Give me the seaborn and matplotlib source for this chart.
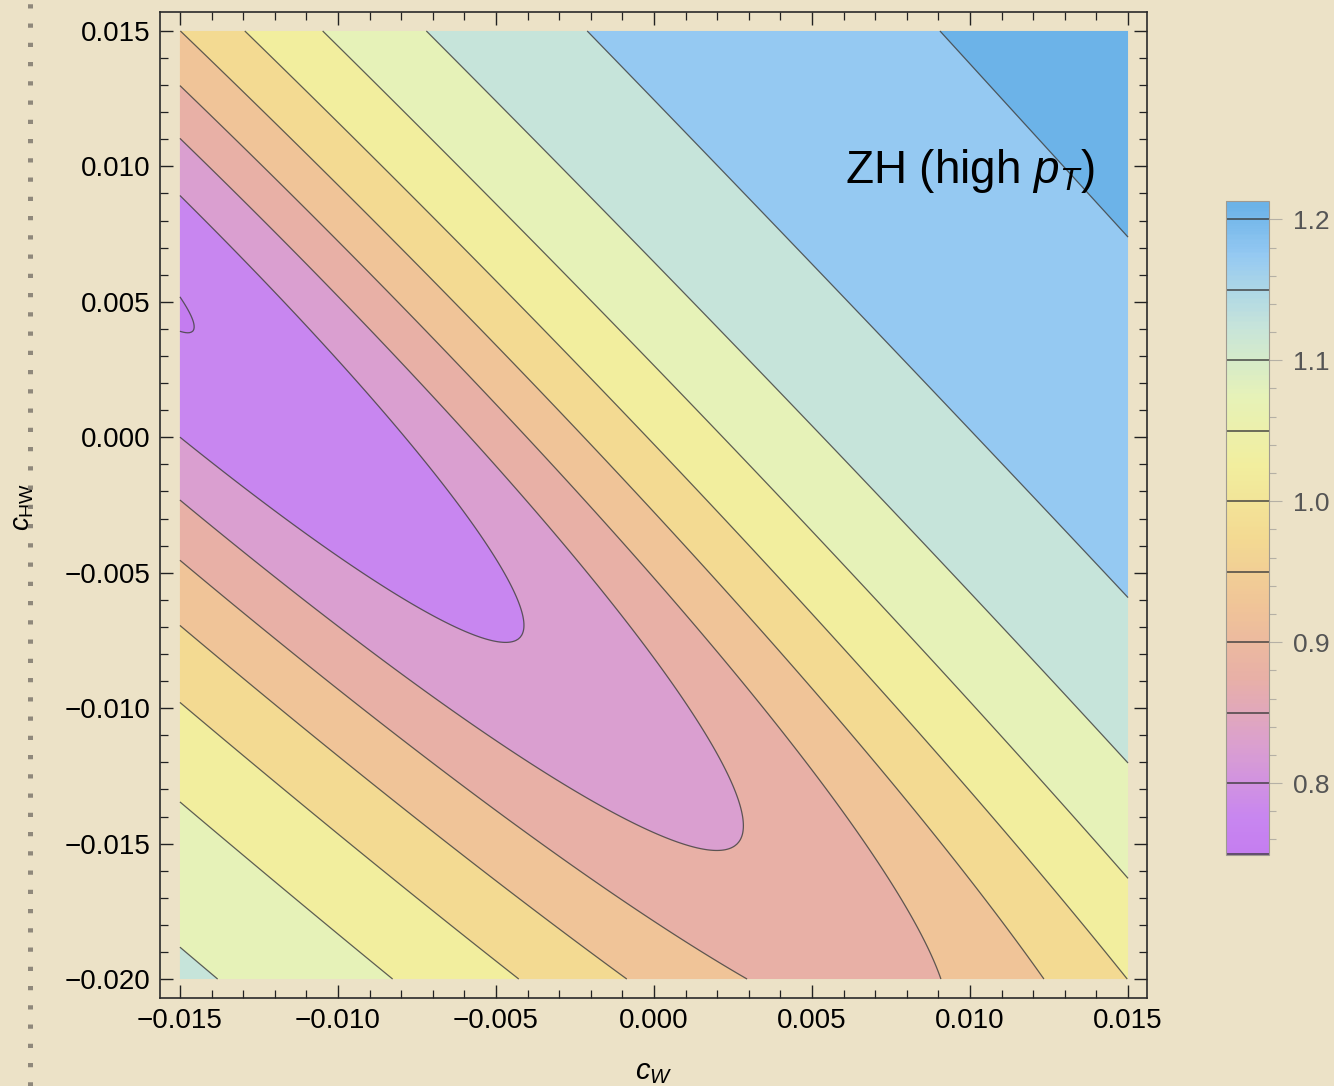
import numpy as np
import matplotlib
matplotlib.use("Agg")
import matplotlib.pyplot as plt
import seaborn as sns
from matplotlib.colors import LinearSegmentedColormap, Normalize
from matplotlib.cm import ScalarMappable
from matplotlib.ticker import MultipleLocator
from matplotlib.lines import Line2D

# ---------------- data ----------------
cw_range = [-0.015, 0.015]          # c_W extent of the filled region
chw_range = [-0.020, 0.015]         # c_HW extent of the filled region
coef_scale = 0.01                   # u = c_W / scale, v = c_HW / scale
# response surface mu(c_W, c_HW) = N(u, v) / D(u, v), terms: 1, u, v, u^2, uv, v^2
num_coef = [1.0049, 1.0563, 0.9005, 0.4946, 0.8812, 0.4225]
den_coef = [1.0, 0.8244, 0.7110, 0.4014, 0.7154, 0.3439]

contour_levels = [0.75, 0.80, 0.85, 0.90, 0.95, 1.00, 1.05, 1.10, 1.15, 1.20]
fill_bounds = [0.70, 0.75, 0.80, 0.85, 0.90, 0.95, 1.00, 1.05, 1.10, 1.15, 1.20, 1.30]
band_colors = ["#C47CF0", "#C886F0", "#DA9FD0", "#E8B0A6", "#F0C498", "#F3DA92",
               "#F2EE9E", "#E6F2B8", "#C6E4DA", "#95C9F2", "#6CB3E8"]
cbar_range = [0.749, 1.213]
cbar_ticks = [0.8, 0.9, 1.0, 1.1, 1.2]
x_ticks = [-0.015, -0.010, -0.005, 0.000, 0.005, 0.010, 0.015]
y_ticks = [-0.020, -0.015, -0.010, -0.005, 0.000, 0.005, 0.010, 0.015]
annotation = "ZH (high $p_T$)"
x_label = "$c_W$"
y_label = r"$c_{\mathrm{HW}}$"

# ---------------- style ----------------
BG = "#ECE2C7"
sns.set_theme(style="ticks")
plt.rcParams["font.family"] = ["Liberation Sans", "DejaVu Sans"]
plt.rcParams["mathtext.fontset"] = "custom"
plt.rcParams["mathtext.rm"] = "Liberation Sans"
plt.rcParams["mathtext.it"] = "Liberation Sans:italic"
plt.rcParams["mathtext.bf"] = "Liberation Sans:bold"
plt.rcParams["axes.unicode_minus"] = True

W, H = 1334, 1086
fig = plt.figure(figsize=(W / 100, H / 100), dpi=100, facecolor=BG)

# decorative stitched border on the left of the page
fig.add_artist(Line2D([30 / W, 30 / W], [0, 1], transform=fig.transFigure,
                      color="#8A8377", lw=3.6, ls=(0, (0.85, 3.0)),
                      solid_capstyle="butt", dash_capstyle="butt", alpha=0.95))

ax = fig.add_axes([160 / W, 1 - 998 / H, 987 / W, 986 / H])
ax.set_facecolor(BG)

# ---------------- field ----------------
gx = np.linspace(cw_range[0], cw_range[1], 500)
gy = np.linspace(chw_range[0], chw_range[1], 500)
GX, GY = np.meshgrid(gx, gy)
u, v = GX / coef_scale, GY / coef_scale
terms = [np.ones_like(u), u, v, u * u, u * v, v * v]
Z = sum(c * t for c, t in zip(num_coef, terms)) / sum(c * t for c, t in zip(den_coef, terms))

ax.contourf(GX, GY, Z, levels=fill_bounds, colors=band_colors, antialiased=True)
ax.contour(GX, GY, Z, levels=contour_levels, colors="#3a3a3a", linewidths=0.9, alpha=0.8)

ax.set_xlim(-0.01563, 0.01560)
ax.set_ylim(-0.0207, 0.0157)

def fmt(t):
    s = f"{t:.3f}"
    return s.replace("-", "\u2212") if t < -1e-12 else s.replace("-", "")

ax.set_xticks(x_ticks)
ax.set_xticklabels([fmt(t) for t in x_ticks])
ax.set_yticks(y_ticks)
ax.set_yticklabels([fmt(t) for t in y_ticks])
ax.xaxis.set_minor_locator(MultipleLocator(0.001))
ax.yaxis.set_minor_locator(MultipleLocator(0.001))
ax.tick_params(which="both", direction="in", top=True, right=True, color="#222222")
ax.tick_params(which="major", length=9.5, width=1.0, labelsize=20, pad=7, labelcolor="black")
ax.tick_params(which="minor", length=5.5, width=0.9)
for sp in ax.spines.values():
    sp.set_color("#2a2a2a")
    sp.set_linewidth(1.2)

ax.set_xlabel(x_label, fontsize=21, color="black")
ax.set_ylabel(y_label, fontsize=20, color="black")
ax.xaxis.set_label_coords((654 - 160) / 987, (998 - 1058) / 986)
ax.yaxis.set_label_coords((36 - 160) / 987, (998 - 507) / 986)

ax.text(0.00604, 0.00939, annotation, fontsize=33, ha="left", va="baseline", color="black")

# ---------------- colour bar ----------------
mids = [(a + b) / 2 for a, b in zip(fill_bounds[:-1], fill_bounds[1:])]
mids[0], mids[-1] = 0.745, 1.21
pos = [(m - mids[0]) / (mids[-1] - mids[0]) for m in mids]
cmap = LinearSegmentedColormap.from_list("zh", list(zip(pos, sns.color_palette(band_colors))))
sm = ScalarMappable(norm=Normalize(mids[0], mids[-1]), cmap=cmap)

cax = fig.add_axes([1226 / W, 1 - 855 / H, 43 / W, 654 / H])
cb = fig.colorbar(sm, cax=cax, boundaries=np.linspace(cbar_range[0], cbar_range[1], 400),
                  ticks=cbar_ticks)
cb.set_ticklabels([f"{t:.1f}" for t in cbar_ticks])
for lv in contour_levels:
    if cbar_range[0] <= lv <= cbar_range[1]:
        cax.axhline(lv, color="#3a3a3a", lw=1.2, alpha=0.85)
cax.yaxis.set_minor_locator(MultipleLocator(0.02))
cax.tick_params(which="major", direction="out", length=9, width=0.8, color="#b5b0a5",
                labelsize=19, labelcolor="#555555", pad=8)
cax.tick_params(which="minor", direction="out", length=5, width=0.8, color="#b5b0a5")
cb.outline.set_edgecolor("#a09a90")
cb.outline.set_linewidth(0.8)

fig.savefig("out.png", dpi=100, facecolor=BG)
